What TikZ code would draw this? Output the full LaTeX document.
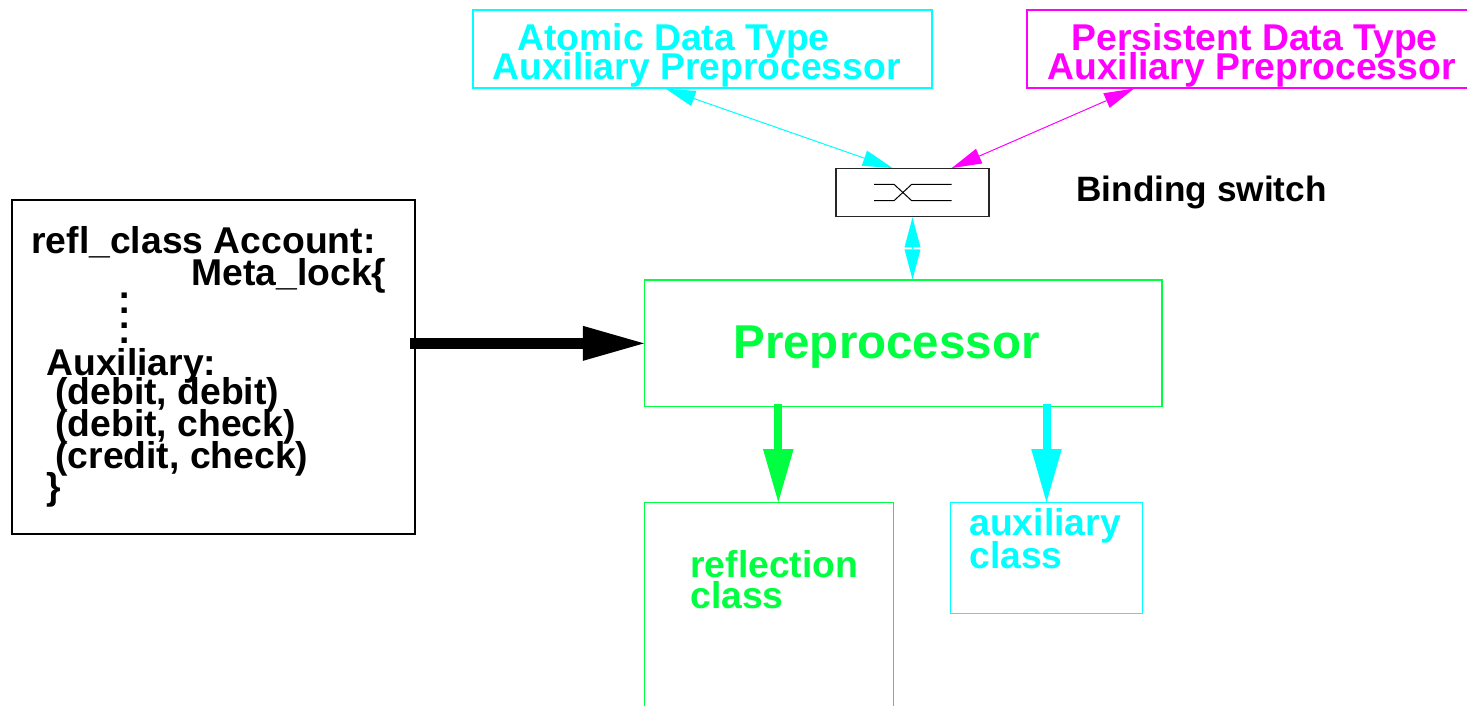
\documentclass[tikz,border=0pt]{standalone}
\usepackage{fontspec}
\setmainfont{Liberation Sans}
\usetikzlibrary{arrows.meta,calc}
\definecolor{figgreen}{RGB}{0,255,64}
\definecolor{figcyan}{RGB}{0,255,255}
\definecolor{figmagenta}{RGB}{255,0,255}
\tikzset{
  box/.style={draw=#1, line width=0.6pt, inner sep=0pt, fill=none},
  txt/.style={inner sep=0pt, anchor=base west, text=#1,
    font=\bfseries\fontsize{18.65pt}{22pt}\selectfont},
  txt/.default=black,
  dot/.style={inner sep=0pt, anchor=base, font=\bfseries\fontsize{18.65pt}{22pt}\selectfont},
  thinarrow/.style={line width=0.5pt,
    {Triangle[length=15pt,width=8pt,line width=0pt]}-{Triangle[length=15pt,width=8pt,line width=0pt]}},
  fatarrow/.style={line width=4pt, -{Triangle[length=26.5pt,width=15.3pt,line width=0pt]}},
}
\begin{document}
\begin{tikzpicture}[x=0.5pt,y=-0.5pt]
\useasboundingbox (0,0) rectangle (1467,706);

% boxes
\node[box=black, minimum width=201.5pt, minimum height=167pt] (account) at (213.5,367) {};
\node[box=figcyan, minimum width=229.5pt, minimum height=39pt] (atomic) at (702.5,49) {};
\node[box=figmagenta, minimum width=236.5pt, minimum height=39pt] (persist) at (1263.5,49) {};
\node[box=black!85, minimum width=76.5pt, minimum height=24pt] (switch) at (912.5,192.7) {};
\node[box=figgreen, minimum width=258.75pt, minimum height=63.35pt] (prep) at (903.25,343.35) {};
\node[box=figgreen, minimum width=124.5pt, minimum height=113.65pt] (refl) at (769,616.35) {};
\node[box=figcyan, minimum width=95.8pt, minimum height=55.5pt] (aux) at (1046.5,558.2) {};

% switch symbol inside the binding switch
\begin{scope}[shift={(switch.center)}, line width=0.5pt]
  \draw (-38.5,-8.4) -- (-18.5,-8.4) -- (-0.8,8) -- (39.2,8);
  \draw (-38.5,8) -- (-18.5,8) -- (-0.8,-8.4) -- (39.2,-8.4);
\end{scope}

% class declaration text
\node[txt] (l1) at (31,253) {refl\_class Account:};
\node[txt] (l2) at (191,285) {Meta\_lock\{};
\node[dot] (d1) at (125,298.5) {.};
\node[dot] (d2) at (125,313) {.};
\node[dot] (d3) at (125,328) {.};
\node[dot] (d4) at (125,343) {.};
\node[txt] (l3) at (46,375) {Auxiliary:};
\node[txt] (l4) at (55,404.5) {(debit, debit)};
\node[txt] (l5) at (55,436.5) {(debit, check)};
\node[txt] (l6) at (55,468) {(credit, check)};
\node[txt] (l7) at (46,499) {\}};

% preprocessor labels
\node[txt=figcyan] (a1) at (517,51) {Atomic Data Type};
\node[txt=figcyan] (a2) at (492,80) {Auxiliary Preprocessor};
\node[txt=figmagenta] (p1) at (1071,51) {Persistent Data Type};
\node[txt=figmagenta] (p2) at (1047,80) {Auxiliary Preprocessor};
\node[txt=figgreen, font=\bfseries\fontsize{23.75pt}{28pt}\selectfont] (pt) at (733,358) {Preprocessor};
\node[txt, font=\bfseries\fontsize{17.6pt}{21pt}\selectfont] (bs) at (1076,201.7) {Binding switch};
\node[txt=figgreen] (r1) at (690,577.3) {reflection};
\node[txt=figgreen] (r2) at (690,608.3) {class};
\node[txt=figcyan] (x1) at (969,535.7) {auxiliary};
\node[txt=figcyan] (x2) at (969,568.3) {class};

% connectors
\draw[thinarrow, figcyan] ([xshift=-18.5pt]atomic.south) -- ([xshift=-9.9pt]switch.north);
\draw[thinarrow, figmagenta] ([xshift=-64.75pt]persist.south) -- ([xshift=19.6pt]switch.north);
\draw[thinarrow, figcyan] (switch.south) -- (switch.south |- prep.north);
\draw[black, line width=5.5pt, -{Triangle[length=30.5pt,width=17.5pt,line width=0pt]}]
  ([xshift=-3pt]account.east |- prep.west) -- (prep.west);
\draw[fatarrow, figgreen] ([xshift=4.65pt,yshift=1.7pt]refl.north |- prep.south) -- ([xshift=4.65pt]refl.north);
\draw[fatarrow, figcyan] ([yshift=1.7pt]aux.north |- prep.south) -- (aux.north);
\end{tikzpicture}
\end{document}
